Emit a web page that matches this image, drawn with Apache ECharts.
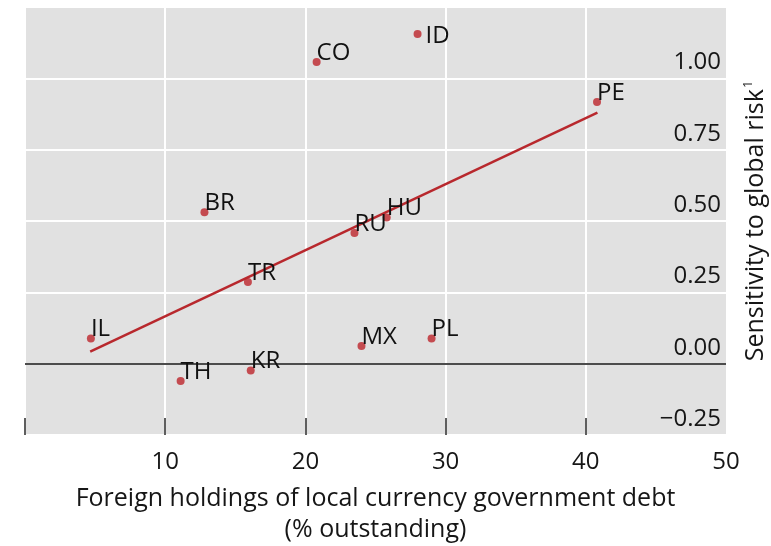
<!DOCTYPE html>
<html>
<head>
<meta charset="utf-8">
<script src="https://cdn.jsdelivr.net/npm/echarts@6/dist/echarts.min.js"></script>
<style>
html,body{margin:0;padding:0;background:#fff;}
#chart{width:771px;height:546px;}
</style>
</head>
<body>
<div id="chart"></div>
<script>
// ---- data ----
const countries = ['IL','TH','KR','TR','BR','CO','ID','RU','HU','MX','PL','PE'];
const foreignHoldings = [4.7, 11.1, 16.1, 15.9, 12.8, 20.8, 28.0, 23.5, 25.8, 24.0, 29.0, 40.8];
const sensitivity = [0.088, -0.061, -0.024, 0.286, 0.531, 1.057, 1.155, 0.458, 0.512, 0.062, 0.088, 0.917];
const trendX = [4.65, 40.83];
const trendY = [0.042, 0.880];
const xTickLabels = [10, 20, 30, 40, 50];
const xTickMarks = [0, 10, 20, 30, 40];
const yTickLabels = [-0.25, 0, 0.25, 0.5, 0.75, 1.0];

const FONT = '"Open Sans", "Noto Sans", sans-serif';
const TXT = '#161616';

const scatterData = countries.map((c, i) => {
  const item = { name: c, value: [foreignHoldings[i], sensitivity[i]] };
  if (c === 'ID') {
    item.label = { offset: [4, 2] };
  }
  return item;
});

const chart = echarts.init(document.getElementById('chart'), null, { renderer: 'canvas' });
chart.setOption({
  animation: false,
  backgroundColor: '#fff',
  grid: {
    left: 25, right: 45, top: 7, bottom: 111,
    outerBoundsMode: 'none',
    containLabel: false,
    show: true, backgroundColor: '#e1e1e1', borderWidth: 0
  },
  xAxis: {
    type: 'value', min: 0, max: 50, interval: 10,
    axisLine: { show: false, onZero: false },
    axisTick: {
      show: true, inside: true, length: 17,
      customValues: xTickMarks,
      lineStyle: { color: '#2a2a2a', width: 1.5 }
    },
    axisLabel: {
      customValues: xTickLabels,
      margin: 15, fontSize: 24, color: TXT, fontFamily: FONT
    },
    splitLine: { show: true, lineStyle: { color: '#fff', width: 2 } },
    name: 'Foreign holdings of local currency government debt\n(% outstanding)',
    nameLocation: 'middle',
    nameGap: 48,
    nameTextStyle: { fontSize: 25, color: TXT, fontFamily: FONT, lineHeight: 31 }
  },
  yAxis: {
    type: 'value', min: -0.25, max: 1.25, interval: 0.25,
    position: 'right',
    axisLine: { show: false },
    axisTick: { show: false },
    axisLabel: {
      inside: true, margin: 5,
      customValues: yTickLabels,
      verticalAlign: 'bottom', lineHeight: 32,
      fontSize: 24, color: TXT, fontFamily: FONT,
      formatter: v => (v < 0 ? '\u2212' : '') + Math.abs(v).toFixed(2)
    },
    splitLine: { show: true, lineStyle: { color: '#fff', width: 2 } },
    name: '{a|Sensitivity to global risk}{s|1}',
    nameLocation: 'middle',
    nameRotate: 90,
    nameGap: 16,
    nameTextStyle: {
      fontSize: 25, color: TXT, fontFamily: FONT,
      rich: {
        a: { fontSize: 25, color: TXT, fontFamily: FONT },
        s: { fontSize: 13, color: TXT, fontFamily: FONT, verticalAlign: 'top', padding: [0, 0, 14, 1] }
      }
    }
  },
  series: [
    {
      type: 'line',
      data: trendX.map((x, i) => [x, trendY[i]]),
      showSymbol: false,
      lineStyle: { color: '#b8282d', width: 2.5 },
      z: 3,
      markLine: {
        silent: true, symbol: 'none',
        label: { show: false },
        lineStyle: { color: '#111', width: 1.5, type: 'solid' },
        data: [{ yAxis: 0 }]
      }
    },
    {
      type: 'scatter',
      data: scatterData,
      symbolSize: 8,
      itemStyle: { color: '#bd262c' },
      z: 4,
      label: {
        show: true, position: 'right', distance: 0, offset: [-4, -9],
        formatter: p => p.name,
        fontSize: 24, color: '#111', fontFamily: FONT,
        textBorderWidth: 0, opacity: 1
      }
    }
  ]
});
</script>
</body>
</html>
